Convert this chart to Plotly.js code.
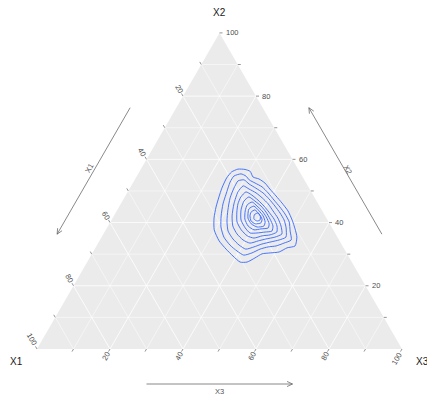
<!DOCTYPE html>
<html>
<head>
<meta charset="utf-8">
<script src="https://cdn.plot.ly/plotly-3.0.1.min.js"></script>
<style>
  html, body { margin: 0; padding: 0; background: #fff; }
  #chart { width: 427px; height: 396px; }
</style>
</head>
<body>
<div id="chart"></div>
<script>
// Ternary axes: X1 bottom-left vertex, X2 top vertex, X3 bottom-right vertex
const axisNames = ['X1', 'X2', 'X3'];
const tickValues = [10, 20, 30, 40, 50, 60, 70, 80, 90, 100];
const labelValues = [20, 40, 60, 80, 100];
const tickLabels = ['20', '40', '60', '80', '100'];
const gridValues = [10, 20, 30, 40, 50, 60, 70, 80, 90];

// Density contours, outermost first; each ring as X2 % and X3 % (X1 = 100 - X2 - X3)
const ringX2 = [
  [54.1, 56.0, 56.9, 56.8, 56.2, 54.4, 53.8, 52.5, 50.6, 48.4, 46.2, 43.7, 40.8, 38.0, 35.4, 32.6, 32.0, 30.7, 30.4, 30.1, 28.8, 27.5, 27.5, 29.4, 31.6, 34.2, 37.7, 41.4, 44.9, 48.1, 50.9],
  [52.8, 54.7, 55.4, 54.7, 53.5, 52.5, 51.3, 49.4, 47.1, 44.9, 42.7, 40.2, 37.3, 34.5, 33.5, 32.6, 32.3, 31.6, 30.4, 29.7, 31.0, 32.9, 35.4, 38.6, 42.1, 45.9, 49.0],
  [50.9, 53.2, 53.5, 52.2, 50.9, 49.4, 47.5, 45.2, 43.0, 40.8, 38.3, 35.4, 34.5, 33.9, 33.2, 32.3, 31.6, 32.9, 34.8, 37.3, 40.5, 44.0, 47.8],
  [49.7, 51.6, 50.6, 49.4, 47.8, 45.9, 43.7, 41.4, 38.9, 36.4, 35.4, 34.8, 34.2, 33.5, 34.5, 36.4, 38.9, 42.1, 45.9],
  [48.1, 49.7, 48.7, 47.1, 45.2, 43.3, 41.1, 38.9, 37.0, 36.1, 35.8, 35.1, 35.8, 37.7, 40.2, 43.3, 45.9],
  [46.8, 48.1, 46.8, 45.2, 43.3, 41.1, 38.9, 37.3, 37.0, 36.7, 36.7, 38.3, 40.8, 44.0],
  [45.6, 46.5, 45.2, 43.7, 41.8, 39.6, 38.3, 38.0, 37.7, 38.9, 41.1, 43.7],
  [44.3, 45.2, 43.7, 42.1, 40.2, 38.9, 38.6, 39.6, 41.4],
  [43.3, 44.0, 42.7, 41.1, 39.9, 39.6, 40.5, 42.1],
  [42.7, 43.0, 42.1, 40.8, 40.5, 41.1, 42.1]
];
const ringX3 = [
  [24.9, 25.3, 26.6, 28.6, 30.3, 32.0, 33.9, 36.2, 38.5, 41.3, 44.0, 46.9, 49.5, 51.7, 53.5, 54.4, 52.5, 51.0, 48.7, 46.6, 45.3, 43.8, 41.9, 39.0, 36.0, 32.8, 29.7, 27.8, 26.6, 25.8, 25.2],
  [26.5, 26.6, 28.2, 29.9, 31.4, 33.5, 36.0, 38.6, 41.4, 44.1, 46.6, 49.0, 50.7, 52.4, 50.9, 49.2, 47.2, 45.3, 43.7, 41.8, 39.3, 36.4, 33.5, 31.1, 29.4, 28.0, 27.3],
  [28.5, 28.5, 30.0, 32.0, 34.5, 37.2, 39.8, 42.6, 45.1, 47.3, 49.1, 50.5, 49.1, 47.2, 45.0, 43.3, 41.4, 38.9, 36.3, 33.7, 31.8, 30.3, 29.0],
  [30.2, 30.7, 32.8, 35.3, 37.8, 40.4, 42.8, 45.3, 47.4, 48.9, 47.5, 45.3, 43.5, 41.6, 39.2, 36.6, 34.2, 32.4, 31.0],
  [31.8, 32.4, 34.5, 37.0, 39.6, 41.9, 44.4, 46.3, 47.2, 45.8, 43.8, 41.9, 39.7, 37.1, 34.7, 33.1, 32.1],
  [33.3, 34.0, 36.3, 38.8, 41.1, 43.3, 45.2, 45.7, 44.0, 41.9, 40.0, 37.9, 35.5, 33.9],
  [34.8, 35.7, 37.7, 39.8, 41.9, 43.8, 44.2, 42.4, 40.6, 38.4, 36.4, 35.2],
  [35.9, 36.8, 39.0, 40.9, 42.4, 42.7, 41.0, 38.9, 37.1],
  [37.0, 37.7, 39.5, 41.1, 41.4, 40.0, 38.4, 37.3],
  [38.4, 39.0, 40.1, 40.7, 40.0, 38.9, 38.4]
];

// ---- geometry: unit-side triangle drawn on hidden cartesian axes ----
const W = 427, H = 396;
const SIDE_PX = 365;            // triangle side in pixels
const ORIGIN_PX = [37, 349];    // bottom-left vertex in pixels
const PX = 1 / SIDE_PX;         // one pixel in data units
const SQ = Math.sqrt(3) / 2;

function toXY(a1, a2, a3) {
  const s = a1 + a2 + a3;
  return [(a3 + a2 / 2) / s, (a2 / s) * SQ];
}
function add(p, d, k) { return [p[0] + d[0] * k, p[1] + d[1] * k]; }

const FONT = 'Liberation Sans, Arial, sans-serif';
const traces = [];
const annotations = [];

// panel background
const tri = [toXY(100, 0, 0), toXY(0, 0, 100), toXY(0, 100, 0), toXY(100, 0, 0)];
traces.push({
  x: tri.map(p => p[0]), y: tri.map(p => p[1]),
  mode: 'lines', fill: 'toself', fillcolor: '#EBEBEB',
  line: { width: 0, color: '#EBEBEB' }, hoverinfo: 'skip'
});

// grid lines
function gridTrace(values, width) {
  const xs = [], ys = [];
  values.forEach(v => {
    const segs = [
      [toXY(100 - v, v, 0), toXY(0, v, 100 - v)],   // constant X2
      [toXY(v, 100 - v, 0), toXY(v, 0, 100 - v)],   // constant X1
      [toXY(100 - v, 0, v), toXY(0, 100 - v, v)]    // constant X3
    ];
    segs.forEach(([p, q]) => { xs.push(p[0], q[0], null); ys.push(p[1], q[1], null); });
  });
  return { x: xs, y: ys, mode: 'lines', line: { color: '#FFFFFF', width: width }, hoverinfo: 'skip' };
}
traces.push(gridTrace(gridValues.filter(v => v % 20 !== 0), 0.5));
traces.push(gridTrace(gridValues.filter(v => v % 20 === 0), 0.8));

// density contours
ringX2.forEach((r2, i) => {
  const r3 = ringX3[i];
  const pts = r2.map((v, j) => toXY(100 - v - r3[j], v, r3[j]));
  pts.push(pts[0]);
  traces.push({
    x: pts.map(p => p[0]), y: pts.map(p => p[1]),
    mode: 'lines', line: { color: '#3366FF', width: 0.9, shape: 'spline', smoothing: 0.6 },
    hoverinfo: 'skip'
  });
});

// axis ticks and tick labels
const edgePoint = {
  X1: v => toXY(v, 100 - v, 0),
  X2: v => toXY(0, v, 100 - v),
  X3: v => toXY(100 - v, 0, v)
};
const tickDir = { X1: [-0.5, SQ], X2: [1, 0], X3: [-0.5, -SQ] };
const tickAngle = { X1: 60, X2: 0, X3: -60 };

const tx = [], ty = [];
axisNames.forEach(name => {
  tickValues.forEach(v => {
    const p = edgePoint[name](v);
    const q = add(p, tickDir[name], 3 * PX);
    tx.push(p[0], q[0], null); ty.push(p[1], q[1], null);
  });
  labelValues.forEach((v, k) => {
    const p = edgePoint[name](v);
    const txt = tickLabels[k];
    if (name === 'X2') {
      const q = add(p, tickDir[name], 4 * PX);
      annotations.push({ x: q[0], y: q[1], text: txt, showarrow: false, xanchor: 'left', yanchor: 'middle',
        font: { family: FONT, size: 7.5, color: '#4D4D4D' } });
    } else {
      const q = add(p, tickDir[name], (4 + txt.length * 2.2) * PX);
      annotations.push({ x: q[0], y: q[1], text: txt, showarrow: false, xanchor: 'center', yanchor: 'middle',
        textangle: tickAngle[name], font: { family: FONT, size: 7.5, color: '#4D4D4D' } });
    }
  });
});
traces.push({ x: tx, y: ty, mode: 'lines', line: { color: '#4D4D4D', width: 0.6 }, hoverinfo: 'skip' });

// direction arrows alongside each edge (30% to 70%)
const arrowSpec = [
  { name: 'X1', from: toXY(30, 70, 0), to: toXY(70, 30, 0), normal: [-SQ, 0.5], sep: 40, labelSep: 45, angle: -60 },
  { name: 'X2', from: toXY(0, 30, 70), to: toXY(0, 70, 30), normal: [SQ, 0.5], sep: 40, labelSep: 42.5, angle: 60 },
  { name: 'X3', from: toXY(70, 0, 30), to: toXY(30, 0, 70), normal: [0, -1], sep: 35, labelSep: 42, angle: 0 }
];
const ax = [], ay = [];
arrowSpec.forEach(a => {
  const s = add(a.from, a.normal, a.sep * PX);
  const e = add(a.to, a.normal, a.sep * PX);
  ax.push(s[0], e[0], null); ay.push(s[1], e[1], null);
  const len = Math.hypot(e[0] - s[0], e[1] - s[1]);
  const u = [(e[0] - s[0]) / len, (e[1] - s[1]) / len];
  [25, -25].forEach(deg => {
    const r = deg * Math.PI / 180;
    const b = [-(u[0] * Math.cos(r) - u[1] * Math.sin(r)), -(u[0] * Math.sin(r) + u[1] * Math.cos(r))];
    const h = add(e, b, 6 * PX);
    ax.push(e[0], h[0], null); ay.push(e[1], h[1], null);
  });
  const mid = [(a.from[0] + a.to[0]) / 2, (a.from[1] + a.to[1]) / 2];
  const lp = add(mid, a.normal, a.labelSep * PX);
  annotations.push({ x: lp[0], y: lp[1], text: a.name, showarrow: false, xanchor: 'center', yanchor: 'middle',
    textangle: a.angle, font: { family: FONT, size: 7.5, color: '#555555' } });
});
traces.push({ x: ax, y: ay, mode: 'lines', line: { color: '#6B6B6B', width: 0.8 }, hoverinfo: 'skip' });

// vertex titles
const vertexTitles = [
  { text: axisNames[1], p: add(toXY(0, 100, 0), [0, 1], 20 * PX) },
  { text: axisNames[0], p: add(toXY(100, 0, 0), [-21 / 12, -1], 12 * PX) },
  { text: axisNames[2], p: add(toXY(0, 0, 100), [20 / 12, -1], 12 * PX) }
];
vertexTitles.forEach(t => {
  annotations.push({ x: t.p[0], y: t.p[1], text: t.text, showarrow: false, xanchor: 'center', yanchor: 'middle',
    font: { family: FONT, size: 10, color: '#1A1A1A' } });
});

const layout = {
  width: W, height: H,
  margin: { l: 0, r: 0, t: 0, b: 0 },
  paper_bgcolor: '#FFFFFF', plot_bgcolor: '#FFFFFF',
  showlegend: false,
  xaxis: { range: [-ORIGIN_PX[0] * PX, (W - ORIGIN_PX[0]) * PX], visible: false, fixedrange: true },
  yaxis: { range: [-(H - ORIGIN_PX[1]) * PX, ORIGIN_PX[1] * PX], visible: false, fixedrange: true },
  annotations: annotations
};

Plotly.newPlot('chart', traces, layout, { staticPlot: true, displayModeBar: false });
</script>
</body>
</html>
